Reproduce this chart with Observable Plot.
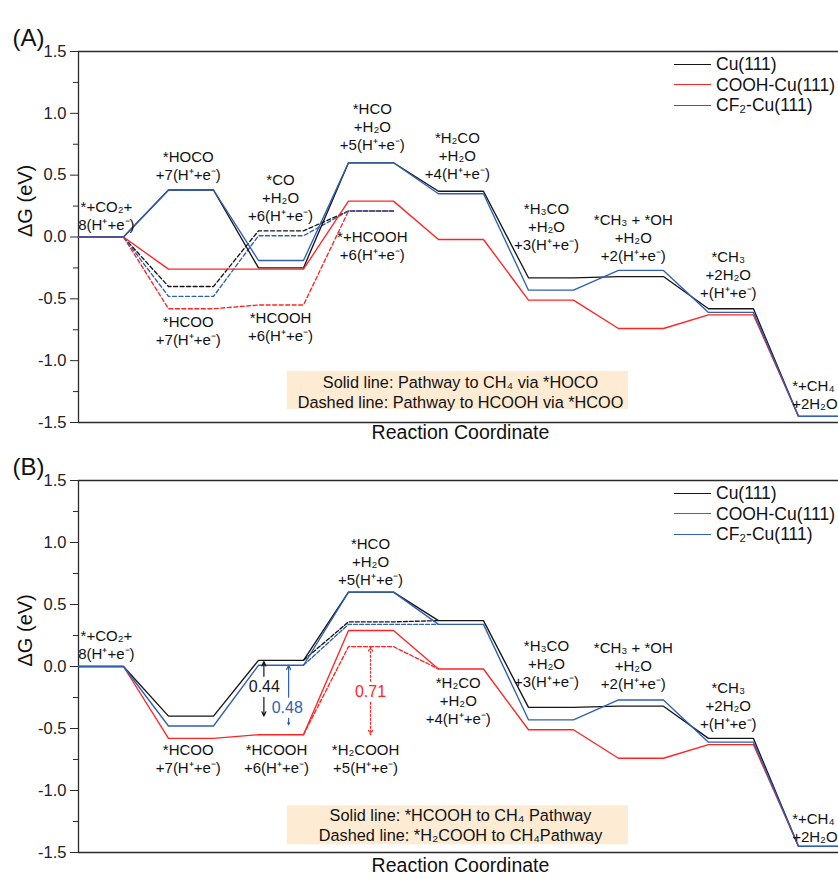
<!DOCTYPE html>
<html>
<head>
<meta charset="utf-8">
<script src="https://cdn.jsdelivr.net/npm/d3@7"></script>
<script src="https://cdn.jsdelivr.net/npm/@observablehq/plot@0.6"></script>
<style>
  html, body { margin: 0; padding: 0; background: #fff; overflow: hidden; width: 838px; height: 883px; }
  body { font-family: Arial, "Liberation Sans", sans-serif; position: relative; }
  .panel { position: absolute; left: 0; width: 838px; }
  .legend { position: absolute; left: 674px; font-size: 17.5px; color: #111; }
  .legend div { position: absolute; left: 0; white-space: nowrap; height: 20px; line-height: 20px; }
  .legend span.sw { display: inline-block; width: 37px; height: 0; border-top: 1.3px solid; vertical-align: middle; margin-right: 5px; position: relative; top: -1px; }
</style>
</head>
<body>
<div id="A" class="panel" style="top:0px"></div>
<div id="B" class="panel" style="top:445px"></div>
<script>
// ---------------- data ----------------
const seriesNames = ["Cu(111)", "COOH-Cu(111)", "CF₂-Cu(111)"];
const seriesColors = ["#161616", "#ff2424", "#2e5fb4"];
const yTicks = [-1.5, -1.0, -0.5, 0.0, 0.5, 1.0, 1.5];
const yMinorTicks = [-1.25, -0.75, -0.25, 0.25, 0.75, 1.25];

// Panel A: solid = pathway to CH4 via *HOCO (steps 0..8)
const cuA   = [0, 0.38, -0.25, 0.60, 0.37, -0.33, -0.32, -0.58, -1.45];
const coohA = [0, -0.26, -0.26, 0.29, -0.02, -0.51, -0.74, -0.63, -1.45];
const cf2A  = [0, 0.38, -0.19, 0.60, 0.35, -0.43, -0.27, -0.61, -1.45];
// Panel A: dashed = pathway to HCOOH via *HCOO (steps 0..3)
const cuAdash   = [0, -0.40, 0.05, 0.21];
const coohAdash = [0, -0.58, -0.55, 0.21];
const cf2Adash  = [0, -0.48, 0.01, 0.21];

// Panel B: solid = *HCOOH to CH4 pathway (steps 0..8)
const cuB   = [0, -0.40, 0.05, 0.60, 0.37, -0.33, -0.32, -0.58, -1.45];
const coohB = [0, -0.58, -0.55, 0.29, -0.02, -0.51, -0.74, -0.63, -1.45];
const cf2B  = [0, -0.48, 0.01, 0.60, 0.34, -0.43, -0.27, -0.61, -1.45];
// Panel B: dashed = *H2COOH intermediate at step 3
const cuBdash   = 0.36;
const coohBdash = 0.16;
const cf2Bdash  = 0.34;

// Barrier annotations (panel B)
const barrierValues = ["0.44", "0.48", "0.71"];

const labelsA = [
  {t: "*+CO₂+\n8(H⁺+e⁻)", x: 0.62, y: 0.179},
  {t: "*HOCO\n+7(H⁺+e⁻)", x: 2.44, y: 0.578},
  {t: "*CO\n+H₂O\n+6(H⁺+e⁻)", x: 4.49, y: 0.323},
  {t: "*HCO\n+H₂O\n+5(H⁺+e⁻)", x: 6.53, y: 0.893},
  {t: "*+HCOOH\n+6(H⁺+e⁻)", x: 6.53, y: -0.069},
  {t: "*HCOO\n+7(H⁺+e⁻)", x: 2.44, y: -0.756},
  {t: "*HCOOH\n+6(H⁺+e⁻)", x: 4.49, y: -0.724},
  {t: "*H₂CO\n+H₂O\n+4(H⁺+e⁻)", x: 8.42, y: 0.663},
  {t: "*H₃CO\n+H₂O\n+3(H⁺+e⁻)", x: 10.4, y: 0.089},
  {t: "*CH₃ + *OH\n+H₂O\n+2(H⁺+e⁻)", x: 12.33, y: -0.004},
  {t: "*CH₃\n+2H₂O\n+(H⁺+e⁻)", x: 14.44, y: -0.299}
];
const endLabelA = {t: "*+CH₄\n+2H₂O", x: 15.86, y: -1.273};

const labelsB = [
  {t: "*+CO₂+\n8(H⁺+e⁻)", x: 0.62, y: 0.179},
  {t: "*HCOO\n+7(H⁺+e⁻)", x: 2.44, y: -0.736},
  {t: "*HCOOH\n+6(H⁺+e⁻)", x: 4.4, y: -0.736},
  {t: "*H₂COOH\n+5(H⁺+e⁻)", x: 6.38, y: -0.736},
  {t: "*HCO\n+H₂O\n+5(H⁺+e⁻)", x: 6.49, y: 0.852},
  {t: "*H₂CO\n+H₂O\n+4(H⁺+e⁻)", x: 8.44, y: -0.269},
  {t: "*H₃CO\n+H₂O\n+3(H⁺+e⁻)", x: 10.4, y: 0.030},
  {t: "*CH₃ + *OH\n+H₂O\n+2(H⁺+e⁻)", x: 12.33, y: 0.014},
  {t: "*CH₃\n+2H₂O\n+(H⁺+e⁻)", x: 14.44, y: -0.309}
];
const endLabelB = {t: "*+CH₄\n+2H₂O", x: 15.86, y: -1.293};

const boxTextA = "Solid line: Pathway to CH₄ via *HOCO\nDashed line: Pathway to HCOOH via *HCOO";
const boxTextB = "Solid line: *HCOOH to CH₄ Pathway\nDashed line: *H₂COOH to CH₄Pathway";

// ---------------- helpers ----------------
const FONT = "Arial, 'Liberation Sans', sans-serif";
const INK = "#111";
const AXIS = "#2a2a2a";

function plateaus(vals, name, offset = 0) {
  return vals.flatMap((v, i) => [
    {x: 2 * (i + offset), y: v, s: name},
    {x: 2 * (i + offset) + 1, y: v, s: name}
  ]);
}

function basePanel({tag, height, marginTop, marginBottom, marks, titleDy}) {
  return Plot.plot({
    width: 838,
    height,
    marginLeft: 78,
    marginRight: 0,
    marginTop,
    marginBottom,
    style: {fontFamily: FONT, background: "transparent", overflow: "visible", color: AXIS},
    x: {domain: [0, 16.89], axis: null},
    y: {domain: [-1.5, 1.5], axis: null, label: null},
    color: {domain: seriesNames, range: seriesColors},
    marks: [
      ...marks.before,
      Plot.ruleY([1.5, -1.5], {stroke: AXIS, strokeWidth: 1.3}),
      Plot.ruleX([0], {stroke: AXIS, strokeWidth: 1.3}),
      Plot.axisY(yTicks, {tickSize: 8, tickPadding: 4, tickFormat: d => d.toFixed(1), fontSize: 16.5, label: null, stroke: AXIS, fill: "#222"}),
      Plot.axisY(yMinorTicks, {tickSize: 5, tickFormat: () => "", label: null, stroke: AXIS}),
      ...marks.after,
      Plot.text([tag], {frameAnchor: "top-left", dx: -66, dy: -23, textAnchor: "start", fontSize: 24, fill: INK}),
      Plot.text(["ΔG (eV)"], {frameAnchor: "left", dx: -53, rotate: -90, fontSize: 20, fill: INK}),
      Plot.text(["Reaction Coordinate"], {frameAnchor: "bottom", dx: 2, dy: titleDy, fontSize: 19.5, fill: INK})
    ]
  });
}

function addLegend(el, top) {
  const lg = document.createElement("div");
  lg.className = "legend";
  lg.style.top = top + "px";
  seriesNames.forEach((n, i) => {
    const row = document.createElement("div");
    row.style.top = (i * 20.5 - 10) + "px";
    const sw = document.createElement("span");
    sw.className = "sw";
    sw.style.borderTopColor = seriesColors[i];
    row.appendChild(sw);
    row.appendChild(document.createTextNode(n));
    lg.appendChild(row);
  });
  el.appendChild(lg);
}

const lineStyle = {x: "x", y: "y", z: "s", stroke: "s", strokeWidth: 1.35};
const labelStyle = {x: "x", y: "y", text: "t", fontSize: 15, lineHeight: 1.2, fill: INK};

// ---------------- Panel A ----------------
const solidA = [...plateaus(cuA, seriesNames[0]), ...plateaus(coohA, seriesNames[1]), ...plateaus(cf2A, seriesNames[2])];
const dashA = [...plateaus(cuAdash, seriesNames[0]), ...plateaus(coohAdash, seriesNames[1]), ...plateaus(cf2Adash, seriesNames[2])];

const plotA = basePanel({
  tag: "(A)", height: 445, marginTop: 51, marginBottom: 23, titleDy: 16,
  marks: {
    before: [
      Plot.rect([{x1: 4.64, x2: 12.22, y1: -1.087, y2: -1.394}], {x1: "x1", x2: "x2", y1: "y1", y2: "y2", fill: "#fdebd3"}),
      Plot.text([boxTextA], {x: 8.49, y: -1.249, text: d => d, fontSize: 16.3, lineHeight: 1.23, fill: INK})
    ],
    after: [
      Plot.line(dashA, {...lineStyle, strokeDasharray: "4,2.5"}),
      Plot.line(solidA, lineStyle),
      Plot.text(labelsA, labelStyle),
      Plot.text([endLabelA], {...labelStyle, textAnchor: "start"})
    ]
  }
});
document.getElementById("A").appendChild(plotA);
addLegend(document.getElementById("A"), 64);

// ---------------- Panel B ----------------
const solidB = [...plateaus(cuB, seriesNames[0]), ...plateaus(coohB, seriesNames[1]), ...plateaus(cf2B, seriesNames[2])];
function bridge(solid, d, name) {
  return [
    {x: 5, y: solid[2], s: name},
    {x: 6, y: d, s: name},
    {x: 7, y: d, s: name},
    {x: 8, y: solid[4], s: name}
  ];
}
const dashB = [...bridge(cuB, cuBdash, seriesNames[0]), ...bridge(coohB, coohBdash, seriesNames[1]), ...bridge(cf2B, cf2Bdash, seriesNames[2])];

// barrier arrows: each split around its value label
const barriers = [
  {v: barrierValues[0], x: 4.12, lx: 4.13, ly: -0.164, top: cuB[2] - 0.01, bot: cuB[1], c: seriesColors[0], dash: null},
  {v: barrierValues[1], x: 4.67, lx: 4.64, ly: -0.333, top: cf2B[2], bot: cf2B[1] + 0.01, c: seriesColors[2], dash: null},
  {v: barrierValues[2], x: 6.49, lx: 6.49, ly: -0.204, top: coohBdash, bot: coohB[2], c: seriesColors[1], dash: "2,2"}
];
const arrowSegs = barriers.flatMap(b => [
  {x: b.x, y1: b.ly + 0.085, y2: b.top, c: b.c, dash: b.dash},
  {x: b.x, y1: b.ly - 0.085, y2: b.bot, c: b.c, dash: b.dash}
]);

const plotB = basePanel({
  tag: "(B)", height: 438, marginTop: 35, marginBottom: 31, titleDy: 19,
  marks: {
    before: [
      Plot.rect([{x1: 4.64, x2: 12.22, y1: -1.123, y2: -1.438}], {x1: "x1", x2: "x2", y1: "y1", y2: "y2", fill: "#fdebd3"}),
      Plot.text([boxTextB], {x: 8.49, y: -1.273, text: d => d, fontSize: 16.3, lineHeight: 1.23, fill: INK})
    ],
    after: [
      Plot.line(dashB, {...lineStyle, strokeDasharray: "4,2"}),
      Plot.line(solidB, lineStyle),
      Plot.arrow(arrowSegs.filter(s => !s.dash), {x: "x", y1: "y1", y2: "y2", stroke: d => d.c, strokeWidth: 1.2, headLength: 6, headAngle: 50}),
      Plot.arrow(arrowSegs.filter(s => s.dash), {x: "x", y1: "y1", y2: "y2", stroke: d => d.c, strokeWidth: 1.2, headLength: 6, headAngle: 50, strokeDasharray: "2,2"}),
      Plot.text(barriers, {x: "lx", y: "ly", text: "v", fill: d => d.c, fontSize: 16}),
      Plot.text(labelsB, labelStyle),
      Plot.text([endLabelB], {...labelStyle, textAnchor: "start"})
    ]
  }
});
document.getElementById("B").appendChild(plotB);
addLegend(document.getElementById("B"), 48);
</script>
</body>
</html>
